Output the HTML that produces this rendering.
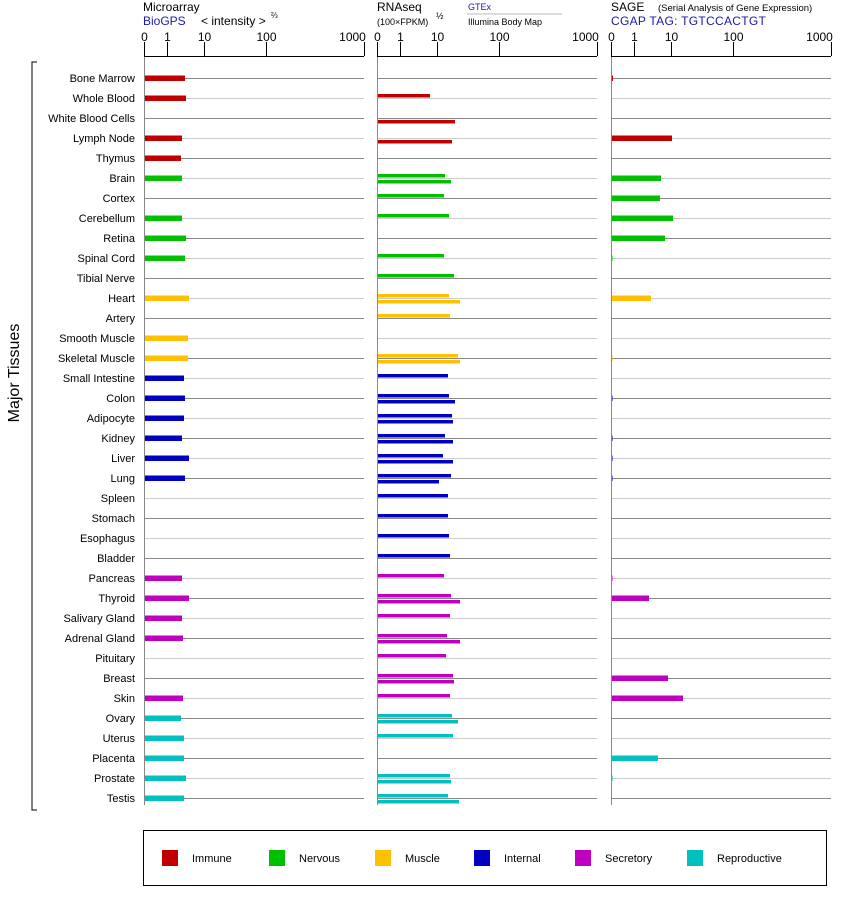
<!DOCTYPE html>
<html><head><meta charset="utf-8"><style>
body{margin:0;background:#fff;}
svg{display:block;font-family:"Liberation Sans",Arial,sans-serif;}
</style></head><body>
<svg id="s" width="842" height="900" xmlns="http://www.w3.org/2000/svg">
<rect width="842" height="900" fill="#fff"/>
<text x="143" y="11" font-size="12">Microarray</text>
<text x="143" y="25" font-size="12" fill="#1a1aa6">BioGPS</text>
<text x="201" y="25" font-size="12">&lt; intensity &gt;</text>
<text x="271" y="18" font-size="8">⅔</text>
<text x="377" y="11" font-size="12">RNAseq</text>
<text x="377" y="25" font-size="9">(100×FPKM)</text>
<text x="436" y="19" font-size="9">½</text>
<text x="468" y="10" font-size="9" fill="#1a1aa6">GTEx</text>
<line x1="467" y1="14" x2="562" y2="14" stroke="#bbb" stroke-width="1"/>
<text x="468" y="25" font-size="9">Illumina Body Map</text>
<text x="611" y="11" font-size="12">SAGE</text>
<text x="658" y="11" font-size="9.5">(Serial Analysis of Gene Expression)</text>
<text x="611" y="25" font-size="12" fill="#1a1aa6" letter-spacing="0.3">CGAP TAG: TGTCCACTGT</text>
<text x="19" y="373" font-size="16" transform="rotate(-90 19 373)" text-anchor="middle">Major Tissues</text>
<path d="M37 62 H32 V810 H37" fill="none" stroke="#000" stroke-width="1"/>
<g id="g"></g>
<rect x="143.5" y="830.5" width="683" height="55" fill="none" stroke="#000"/>
<g font-size="11">
<rect x="162" y="850" width="16" height="16" fill="#c00000"/><text x="192" y="862">Immune</text>
<rect x="269" y="850" width="16" height="16" fill="#00c000"/><text x="299" y="862">Nervous</text>
<rect x="375" y="850" width="16" height="16" fill="#ffc000"/><text x="405" y="862">Muscle</text>
<rect x="474" y="850" width="16" height="16" fill="#0000c0"/><text x="504" y="862">Internal</text>
<rect x="575" y="850" width="16" height="16" fill="#c000c0"/><text x="605" y="862">Secretory</text>
<rect x="687" y="850" width="16" height="16" fill="#00c0c0"/><text x="717" y="862">Reproductive</text>
</g>
</svg>
<script>
const NS="http://www.w3.org/2000/svg",g=document.getElementById('g');
function el(t,a,txt){const e=document.createElementNS(NS,t);for(const k in a)e.setAttribute(k,a[k]);if(txt!=null)e.textContent=txt;g.appendChild(e);return e;}
const C={I:"#c00000",N:"#00c000",M:"#ffc000",T:"#0000c0",S:"#c000c0",R:"#00c0c0"};
const rows=[
["Bone Marrow","I",185,0,0,613],["Whole Blood","I",186,430,0,0],["White Blood Cells","I",0,0,455,0],
["Lymph Node","I",182,0,452,672],["Thymus","I",181,0,0,0],["Brain","N",182,445,451,661],
["Cortex","N",0,444,0,660],["Cerebellum","N",182,449,0,673],["Retina","N",186,0,0,665],
["Spinal Cord","N",185,444,0,612.5],["Tibial Nerve","N",0,454,0,0],["Heart","M",189,449,460,651],
["Artery","M",0,450,0,0],["Smooth Muscle","M",188,0,0,0],["Skeletal Muscle","M",188,458,460,612],
["Small Intestine","T",184,448,0,0],["Colon","T",185,449,455,612.5],["Adipocyte","T",184,452,453,0],
["Kidney","T",182,445,453,612.5],["Liver","T",189,443,453,612.5],["Lung","T",185,451,439,612.5],
["Spleen","T",0,448,0,0],["Stomach","T",0,448,0,0],["Esophagus","T",0,449,0,0],["Bladder","T",0,450,0,0],
["Pancreas","S",182,444,0,612.5],["Thyroid","S",189,451,460,649],["Salivary Gland","S",182,450,0,0],
["Adrenal Gland","S",183,447,460,0],["Pituitary","S",0,446,0,0],["Breast","S",0,453,454,668],
["Skin","S",183,450,0,683],["Ovary","R",181,452,458,0],["Uterus","R",184,453,0,0],
["Placenta","R",184,0,0,658],["Prostate","R",186,450,451,612.5],["Testis","R",184,448,459,0]];
const P=[144,377,611],W=220;
const fr=[0,22.5/220,60/220,122/220,1],lab=["0","1","10","100","1000"];
rows.forEach((r,i)=>{const y=78+20*i;
 el('text',{x:135,y:y+4,"font-size":11,"text-anchor":"end"},r[0]);
 const col=i%2==0?"#888":"#ccc";
 P.forEach(p=>el('line',{x1:p,y1:y+0.5,x2:p+W,y2:y+0.5,stroke:col,"stroke-width":1}));
 const c=C[r[1]];
 if(r[2])el('rect',{x:144,y:y-2.5,width:r[2]-144,height:5.5,fill:c});
 if(r[3])el('rect',{x:378,y:y-4,width:r[3]-378,height:3.5,fill:c});
 if(r[4])el('rect',{x:378,y:y+2,width:r[4]-378,height:3.5,fill:c});
 if(r[5])el('rect',{x:611,y:y-2.5,width:Math.max(r[5]-611,1.5),height:5.5,fill:c});
});
P.forEach(p=>{
 el('line',{x1:p+0.5,y1:42,x2:p+0.5,y2:805,stroke:"#888","stroke-width":1});
 el('line',{x1:p,y1:56.5,x2:p+W,y2:56.5,stroke:"#000","stroke-width":1});
 fr.forEach((f,k)=>{const x=Math.round(p+f*W)+0.5;
  el('line',{x1:x,y1:42,x2:x,y2:56,stroke:"#000","stroke-width":1});
  el('text',{x:k==4?x-12:x,y:41,"font-size":12,"text-anchor":"middle"},lab[k]);});
});
</script>
</body></html>
